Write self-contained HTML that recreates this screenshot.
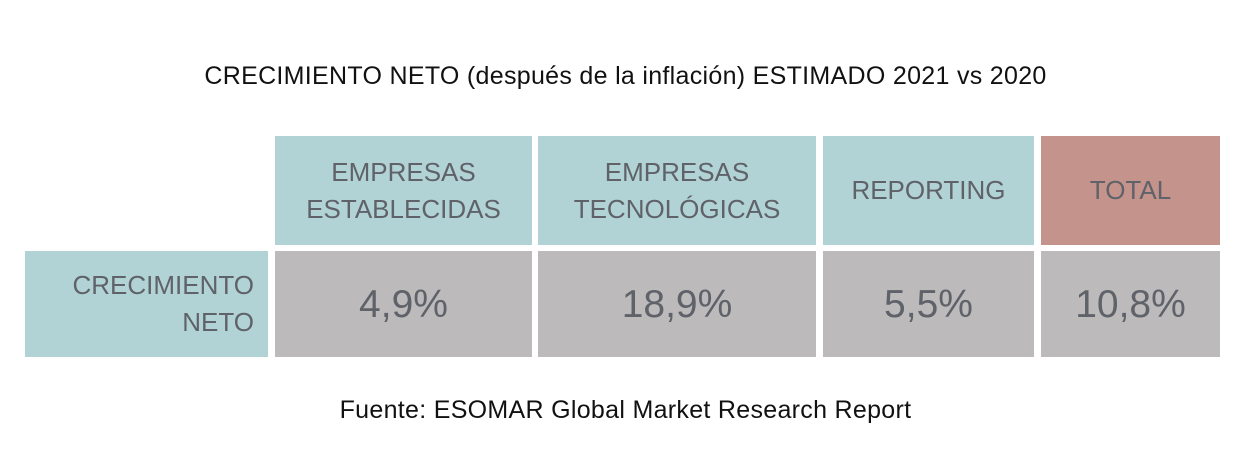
<!DOCTYPE html>
<html><head><meta charset="utf-8"><style>
body{margin:0;width:1251px;height:451px;background:#fff;position:relative;font-family:"Liberation Sans",sans-serif;overflow:hidden}
.t{position:absolute;left:0;width:1251px;text-align:center;color:#111}
.c{position:absolute;display:flex;align-items:center;justify-content:center;text-align:center;color:#5f6268;line-height:37px}
.h{background:#b2d3d5;font-size:26px}
.v{background:#bcbabb;font-size:39px}
</style></head><body>
<div class="t" style="top:62px;font-size:25px;letter-spacing:0.3px">CRECIMIENTO NETO (después de la inflación) ESTIMADO 2021 vs 2020</div>
<div class="c h" style="left:275px;top:136px;width:257px;height:109px">EMPRESAS<br>ESTABLECIDAS</div>
<div class="c h" style="left:538px;top:136px;width:278px;height:109px">EMPRESAS<br>TECNOLÓGICAS</div>
<div class="c h" style="left:823px;top:136px;width:211px;height:109px">REPORTING</div>
<div class="c h" style="left:1041px;top:136px;width:179px;height:109px;background:#c4938c">TOTAL</div>
<div class="c h" style="left:25px;top:251px;width:243px;height:106px;justify-content:flex-end;text-align:right;padding-right:14px;box-sizing:border-box">CRECIMIENTO<br>NETO</div>
<div class="c v" style="left:275px;top:251px;width:257px;height:106px">4,9%</div>
<div class="c v" style="left:538px;top:251px;width:278px;height:106px">18,9%</div>
<div class="c v" style="left:823px;top:251px;width:211px;height:106px">5,5%</div>
<div class="c v" style="left:1041px;top:251px;width:179px;height:106px">10,8%</div>
<div class="t" style="top:396px;font-size:25px;letter-spacing:0.3px">Fuente: ESOMAR Global Market Research Report</div>
</body></html>
